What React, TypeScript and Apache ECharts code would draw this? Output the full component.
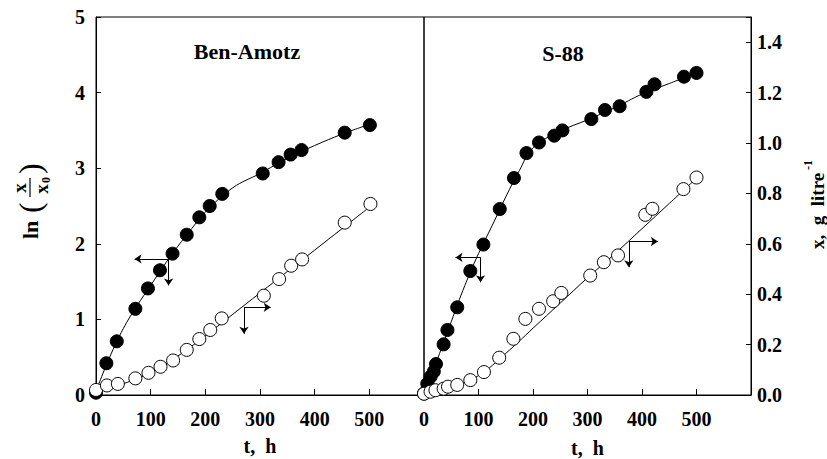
import React, { useEffect, useRef } from "react";
import * as echarts from "echarts";

// ---- Ben-Amotz panel ----
const leftFilledT = [0, 19, 38, 72, 95, 117, 140, 166, 189, 208, 231, 305, 334, 356, 376, 455, 501];
const leftFilledLn = [0.03, 0.42, 0.71, 1.14, 1.41, 1.65, 1.87, 2.12, 2.35, 2.5, 2.66, 2.93, 3.08, 3.18, 3.24, 3.47, 3.57];
const leftOpenT = [0, 20, 40, 72, 96, 118, 141, 166, 189, 209, 230, 307, 335, 357, 377, 455, 502];
const leftOpenX = [0.02, 0.038, 0.044, 0.066, 0.088, 0.112, 0.137, 0.179, 0.222, 0.258, 0.304, 0.394, 0.46, 0.513, 0.538, 0.684, 0.758];
const leftFitT = [0, 25, 50, 75, 100, 125, 150, 175, 200, 250, 300, 350, 400, 450, 500];
const leftFitLn = [0.05, 0.5, 0.88, 1.18, 1.45, 1.72, 1.97, 2.2, 2.42, 2.74, 2.93, 3.13, 3.3, 3.45, 3.58];
const leftOpenFitT = [0, 50, 100, 150, 200, 250, 300, 350, 400, 450, 500];
const leftOpenFitX = [0.02, 0.045, 0.09, 0.155, 0.235, 0.32, 0.405, 0.49, 0.575, 0.66, 0.745];

// ---- S-88 panel ----
const rightFilledT = [0, 6, 12, 18, 22, 36, 43, 61, 85, 109, 139, 165, 188, 211, 239, 254, 307, 332, 359, 408, 423, 477, 500];
const rightFilledLn = [0.02, 0.15, 0.24, 0.31, 0.41, 0.67, 0.86, 1.16, 1.64, 1.99, 2.46, 2.87, 3.2, 3.34, 3.43, 3.5, 3.65, 3.77, 3.82, 4.01, 4.11, 4.21, 4.26];
const rightOpenT = [0, 12, 21, 36, 44, 61, 85, 110, 138, 164, 186, 211, 237, 252, 305, 330, 356, 406, 419, 476, 500];
const rightOpenX = [0.005, 0.013, 0.019, 0.025, 0.033, 0.04, 0.059, 0.091, 0.148, 0.223, 0.302, 0.342, 0.372, 0.405, 0.474, 0.527, 0.554, 0.715, 0.739, 0.817, 0.863];
const rightFitT = [0, 10, 25, 50, 75, 100, 125, 150, 175, 200, 250, 300, 350, 400, 450, 500];
const rightFitLn = [0, 0.2, 0.48, 0.97, 1.45, 1.87, 2.24, 2.62, 2.97, 3.27, 3.49, 3.64, 3.8, 3.98, 4.12, 4.26];
const rightOpenFitT = [0, 50, 100, 150, 200, 250, 300, 350, 400, 450, 500];
const rightOpenFitX = [0, 0.03, 0.077, 0.165, 0.265, 0.365, 0.465, 0.56, 0.66, 0.76, 0.86];

// axis arrows (data units: t, ln)
const leftArrows = [
  [[132.8, 1.8], [70.5, 1.8]],
  [[132.8, 1.8], [132.8, 1.45]],
  [[270.7, 1.16], [270.7, 0.81]],
  [[270.7, 1.16], [319.6, 1.16]],
];
const rightArrows = [
  [[103.7, 1.82], [57.8, 1.82]],
  [[103.7, 1.82], [103.7, 1.49]],
  [[375.8, 2.03], [375.8, 1.69]],
  [[375.8, 2.03], [429, 2.03]],
];

const xTicks = [0, 100, 200, 300, 400, 500];

const zip = (a: number[], b: number[]) => a.map((v, i) => [v, b[i]]);

const FONT = "'Liberation Serif', 'Times New Roman', Times, serif";

export default function App() {
  const ref = useRef<HTMLDivElement>(null);
  useEffect(() => {
    if (!ref.current) return;
    const chart = echarts.init(ref.current, undefined, { renderer: "svg" });
    const labelStyle = { fontFamily: FONT, fontWeight: "bold" as const, fontSize: 20, color: "#000" };
    const xAxisBase = (gridIndex: number) => ({
      type: "value" as const,
      gridIndex,
      min: 0,
      max: 600,
      interval: 100,
      name: "t,  h",
      nameLocation: "middle" as const,
      nameGap: gridIndex === 0 ? 41 : 43,
      nameTextStyle: { ...labelStyle, lineHeight: 20 },
      axisLine: { show: true, lineStyle: { color: "#000", width: 1 } },
      axisTick: { show: true, inside: true, length: 6, lineStyle: { color: "#000" } },
      axisLabel: {
        ...labelStyle,
        margin: 14,
        formatter: (v: number) => (xTicks.includes(v) ? String(v) : ""),
      },
      splitLine: { show: false },
    });
    const line = (xi: number, yi: number, t: number[], v: number[]) => ({
      type: "line" as const,
      xAxisIndex: xi,
      yAxisIndex: yi,
      data: zip(t, v),
      smooth: 0.4,
      symbol: "none",
      lineStyle: { color: "#000", width: 1 },
      z: 2,
    });
    const scatter = (xi: number, yi: number, t: number[], v: number[], filled: boolean) => ({
      type: "scatter" as const,
      xAxisIndex: xi,
      yAxisIndex: yi,
      data: zip(t, v),
      symbol: "circle",
      symbolSize: 13,
      itemStyle: filled
        ? { color: "#000", borderColor: "#000", borderWidth: 1, opacity: 1 }
        : { color: "#fff", borderColor: "#000", borderWidth: 1, opacity: 1 },
      z: 3,
    });
    const arrows = (xi: number, yi: number, segs: number[][][]) => ({
      type: "lines" as const,
      coordinateSystem: "cartesian2d",
      xAxisIndex: xi,
      yAxisIndex: yi,
      symbol: ["none", "arrow"],
      symbolSize: 7,
      lineStyle: { color: "#000", width: 1, opacity: 1 },
      data: segs.map((s) => ({ coords: s })),
      z: 4,
    });
    const txt = (text: string, x: number, y: number, size: number, bold = true, align = "center", rotation = 0) => ({
      type: "text",
      x,
      y,
      rotation,
      style: { text, fontFamily: FONT, fontWeight: bold ? "bold" : "normal", fontSize: size, fill: "#000", align, verticalAlign: "middle" },
    });
    const R = Math.PI / 2;
    chart.setOption({
      animation: false,
      backgroundColor: "#fff",
      grid: [
        { left: 96, top: 17, width: 328, height: 378, show: true, borderColor: "#000", borderWidth: 1, backgroundColor: "transparent", outerBoundsMode: "none", containLabel: false },
        { left: 424, top: 17, width: 327, height: 378, show: true, borderColor: "#000", borderWidth: 1, backgroundColor: "transparent", outerBoundsMode: "none", containLabel: false },
      ],
      xAxis: [xAxisBase(0), xAxisBase(1)],
      yAxis: [
        {
          type: "value",
          gridIndex: 0,
          min: 0,
          max: 5,
          interval: 1,
          position: "left",
          axisLine: { show: true, lineStyle: { color: "#000" } },
          axisTick: { show: true, inside: true, length: 5, lineStyle: { color: "#000" } },
          axisLabel: { ...labelStyle, margin: 11 },
          splitLine: { show: false },
        },
        { type: "value", gridIndex: 0, min: 0, max: 1.5, show: false },
        { type: "value", gridIndex: 1, min: 0, max: 5, show: false },
        {
          type: "value",
          gridIndex: 1,
          min: 0,
          max: 1.5,
          interval: 0.2,
          position: "right",
          axisLine: { show: true, lineStyle: { color: "#000" } },
          axisTick: { show: true, inside: true, length: 5, lineStyle: { color: "#000" } },
          axisLabel: {
            ...labelStyle,
            margin: 6,
            formatter: (v: number) => (v > 1.45 ? "" : v.toFixed(1)),
          },
          splitLine: { show: false },
        },
      ],
      series: [
        line(0, 0, leftFitT, leftFitLn),
        line(0, 1, leftOpenFitT, leftOpenFitX),
        line(1, 2, rightFitT, rightFitLn),
        line(1, 3, rightOpenFitT, rightOpenFitX),
        scatter(0, 0, leftFilledT, leftFilledLn, true),
        scatter(0, 1, leftOpenT, leftOpenX, false),
        scatter(1, 2, rightFilledT, rightFilledLn, true),
        scatter(1, 3, rightOpenT, rightOpenX, false),
        arrows(0, 0, leftArrows),
        arrows(1, 2, rightArrows),
      ],
      graphic: [
        txt("Ben-Amotz", 247, 51, 22),
        txt("S-88", 563, 53, 22),
        // left axis title: ln (x / x0), rotated, placed in screen coordinates
        txt("ln", 30, 239, 22, true, "left", R),
        txt("(", 30, 213, 32, false, "left", R),
        txt("x", 19, 188, 19, true, "center", R),
        { type: "line", shape: { x1: 30, y1: 178, x2: 30, y2: 197 }, style: { stroke: "#000", lineWidth: 1.2 } },
        txt("x", 41, 189, 19, true, "center", R),
        txt("0", 46, 180, 12, true, "center", R),
        txt(")", 30, 174, 32, false, "left", R),
        // right axis title
        txt("x,  g  litre", 817, 249, 19, true, "left", R),
        txt("-1", 808, 170, 12, true, "left", R),
      ],
    });
    return () => chart.dispose();
  }, []);
  return <div ref={ref} style={{ position: "fixed", left: 0, top: 0, width: 827, height: 459, background: "#fff" }} />;
}
